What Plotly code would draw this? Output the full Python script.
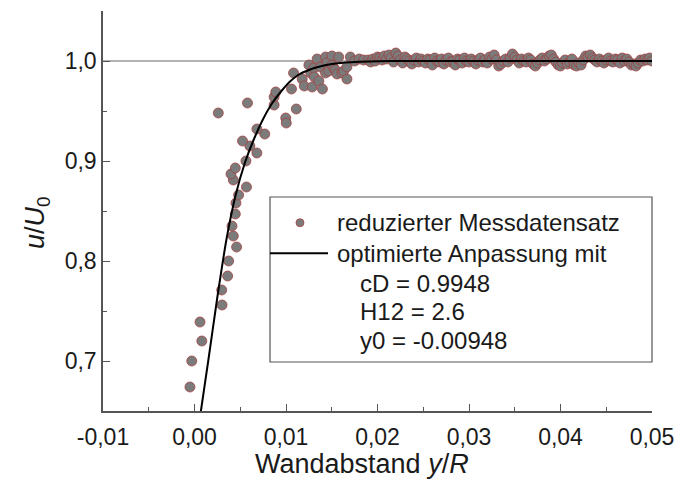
import plotly.graph_objects as go

# ---------------- data ----------------
# measured points (reduced data set)
meas_x = [
    -0.00050, -0.00030, 0.00080, 0.00060, 0.00301, 0.00297, 0.00362, 0.00373, 0.00460, 0.00424,
    0.00410, 0.00446, 0.00453, 0.00482, 0.00568, 0.00424, 0.00399, 0.00446, 0.00562, 0.00682,
    0.00605, 0.00525, 0.00768, 0.00682, 0.00260, 0.00579,
    0.00870, 0.00870, 0.00888, 0.00997, 0.01003, 0.01112, 0.01060, 0.01083, 0.01177, 0.01200,
    0.01250, 0.01270, 0.01286, 0.01304, 0.01310, 0.01340, 0.01359, 0.01377, 0.01398, 0.01432,
    0.01432, 0.01449, 0.01467, 0.01503, 0.01503, 0.01522, 0.01540, 0.01558, 0.01576, 0.01612,
    0.01630, 0.01666, 0.01666, 0.01703, 0.01750, 0.01800, 0.01848,
    0.01900, 0.01925, 0.01950, 0.01975, 0.02000, 0.02025, 0.02050, 0.02075, 0.02100, 0.02125,
    0.02150, 0.02175, 0.02200, 0.02225, 0.02250, 0.02275, 0.02300, 0.02325, 0.02350, 0.02375,
    0.02400, 0.02425, 0.02450, 0.02475, 0.02500, 0.02525, 0.02550, 0.02575, 0.02600, 0.02625,
    0.02650, 0.02675, 0.02700, 0.02725, 0.02750, 0.02775, 0.02800, 0.02825, 0.02850, 0.02875,
    0.02900, 0.02925, 0.02950, 0.02975, 0.03000, 0.03025, 0.03050, 0.03075, 0.03100, 0.03125,
    0.03150, 0.03175, 0.03200, 0.03225, 0.03250, 0.03275, 0.03300, 0.03325, 0.03350, 0.03375,
    0.03400, 0.03425, 0.03450, 0.03475, 0.03500, 0.03525, 0.03550, 0.03575, 0.03600, 0.03625,
    0.03650, 0.03675, 0.03700, 0.03725, 0.03750, 0.03775, 0.03800, 0.03825, 0.03850, 0.03875,
    0.03900, 0.03925, 0.03950, 0.03975, 0.04000, 0.04025, 0.04050, 0.04075, 0.04100, 0.04125,
    0.04150, 0.04175, 0.04200, 0.04225, 0.04250, 0.04275, 0.04300, 0.04325, 0.04350, 0.04375,
    0.04400, 0.04425, 0.04450, 0.04475, 0.04500, 0.04525, 0.04550, 0.04575, 0.04600, 0.04625,
    0.04650, 0.04675, 0.04700, 0.04725, 0.04750, 0.04775, 0.04800, 0.04825, 0.04850, 0.04875,
    0.04900, 0.04925, 0.04950, 0.04975, 0.05000,
]
meas_y = [
    0.674, 0.700, 0.720, 0.739, 0.756, 0.771, 0.785, 0.800, 0.814, 0.825,
    0.835, 0.847, 0.858, 0.866, 0.874, 0.881, 0.887, 0.893, 0.900, 0.908,
    0.915, 0.920, 0.927, 0.932, 0.948, 0.958,
    0.956, 0.964, 0.969, 0.943, 0.938, 0.952, 0.972, 0.988, 0.982, 0.975,
    0.996, 0.988, 0.974, 0.993, 0.984, 1.002, 0.980, 0.994, 0.972, 1.004,
    0.988, 0.998, 0.990, 1.005, 0.996, 0.993, 0.991, 0.987, 1.004, 0.988,
    0.990, 0.994, 0.982, 1.004, 1.000, 1.002, 1.001,
    1.001, 0.999, 1.002, 1.000, 1.004, 1.003, 1.001, 1.005, 1.002, 1.006,
    1.003, 0.999, 1.008, 1.005, 1.001, 0.998, 1.004, 1.002, 1.000, 0.997,
    1.001, 1.003, 0.999, 1.002, 1.000, 0.998, 1.002, 1.001, 0.996, 1.003,
    1.000, 0.999, 1.002, 0.997, 1.001, 1.003, 0.999, 1.000, 0.996, 1.002,
    1.001, 0.998, 1.003, 1.000, 0.999, 1.002, 1.000, 0.997, 1.001, 1.003,
    0.999, 1.001, 0.998, 1.004, 1.002, 1.006, 1.001, 0.995, 0.997, 1.000,
    1.002, 0.999, 1.003, 1.007, 1.004, 1.001, 0.998, 1.002, 1.000, 0.999,
    1.003, 1.001, 0.997, 0.995, 0.998, 1.001, 1.003, 1.000, 1.002, 1.005,
    1.006, 1.002, 0.999, 0.996, 0.995, 0.998, 1.001, 0.997, 0.999, 1.002,
    0.996, 0.995, 0.998, 0.996, 1.001, 1.005, 1.004, 1.006, 1.003, 1.001,
    0.999, 1.002, 1.000, 0.998, 1.001, 1.003, 1.000, 0.999, 1.002, 1.001,
    0.998, 1.003, 1.000, 1.002, 0.999, 0.996, 0.997, 0.995, 0.998, 1.001,
    1.000, 1.002, 1.001, 1.003, 1.000,
]

# optimised fit curve
fit_x = [0.0005, 0.0007, 0.0015, 0.0025, 0.0035, 0.0045, 0.0055, 0.0065, 0.0075, 0.0085,
         0.0095, 0.0105, 0.0115, 0.0125, 0.0135, 0.0150, 0.0165, 0.0180, 0.0200, 0.0230,
         0.0300, 0.0400, 0.0500]
fit_y = [0.637, 0.650, 0.700, 0.764, 0.822, 0.866, 0.898, 0.922, 0.942, 0.958,
         0.970, 0.980, 0.987, 0.991, 0.994, 0.997, 0.9985, 0.9993, 0.9998, 1.0,
         1.0, 1.0, 1.0]

x_tickvals = [-0.01, 0.0, 0.01, 0.02, 0.03, 0.04, 0.05]
x_ticktext = ["-0,01", "0,00", "0,01", "0,02", "0,03", "0,04", "0,05"]
y_tickvals = [0.7, 0.8, 0.9, 1.0]
y_ticktext = ["0,7", "0,8", "0,9", "1,0"]

legend_texts = ["reduzierter Messdatensatz", "optimierte Anpassung mit",
                "cD = 0.9948", "H12 = 2.6", "y0 = -0.00948"]

FONT = "Liberation Sans, Arial, sans-serif"
TXT = "#1a1a1a"
AXC = "#555555"
MFILL = "#7b7b7b"
MLINE = "rgba(165,60,60,0.75)"

fig = go.Figure()
fig.add_trace(go.Scatter(
    x=meas_x, y=meas_y, mode="markers",
    marker=dict(size=10, color=MFILL, line=dict(color=MLINE, width=1)),
    showlegend=False, cliponaxis=True))
fig.add_trace(go.Scatter(
    x=fit_x, y=fit_y, mode="lines",
    line=dict(color="black", width=2, shape="spline", smoothing=0.6),
    showlegend=False))

# reference line at u/U0 = 1
fig.add_shape(type="line", xref="paper", x0=0, x1=1, yref="y", y0=1.0, y1=1.0,
              line=dict(color="#9a9a9a", width=1.5), layer="below")

# ---- hand-built legend (box, symbols, text) ----
fig.add_shape(type="rect", xref="paper", yref="paper", x0=0.3042, x1=1.0, y0=0.1225, y1=0.535,
              line=dict(color=AXC, width=1.2), fillcolor="rgba(0,0,0,0)")
fig.add_shape(type="circle", xref="paper", yref="paper",
              xsizemode="pixel", ysizemode="pixel", xanchor=0.3588, yanchor=0.4708,
              x0=-4, x1=4, y0=-4, y1=4,
              fillcolor=MFILL, line=dict(color=MLINE, width=1))
fig.add_shape(type="line", xref="paper", yref="paper", x0=0.3042, x1=0.4098, y0=0.3943, y1=0.3943,
              line=dict(color="black", width=2))
leg_x = [0.4226, 0.4226, 0.4645, 0.4645, 0.4645]
leg_y = [0.4708, 0.3943, 0.3193, 0.2483, 0.1775]
for t, lx, ly in zip(legend_texts, leg_x, leg_y):
    fig.add_annotation(text=t, xref="paper", yref="paper", x=lx, y=ly,
                       xanchor="left", yanchor="middle", showarrow=False,
                       font=dict(family=FONT, size=24, color=TXT))

# axis titles
fig.add_annotation(text="<i>u</i>/<i>U</i><sub>0</sub>", xref="paper", yref="paper",
                   x=-0.120, y=0.47, textangle=-90, showarrow=False,
                   xanchor="center", yanchor="middle",
                   font=dict(family=FONT, size=27, color=TXT))
fig.add_annotation(text="Wandabstand <i>y</i>/<i>R</i>", xref="paper", yref="paper",
                   x=0.4718, y=-0.132, showarrow=False, xanchor="center", yanchor="middle",
                   font=dict(family=FONT, size=27, color=TXT))

fig.update_xaxes(range=[-0.01, 0.05], showgrid=False, zeroline=False,
                 showline=True, linecolor=AXC, linewidth=1.5,
                 ticks="inside", ticklen=7, tickwidth=1.2, tickcolor=AXC,
                 tickmode="array", tickvals=x_tickvals, ticktext=x_ticktext,
                 ticklabelstandoff=5, ticklabeloverflow="allow",
                 tickfont=dict(family=FONT, size=23, color=TXT),
                 minor=dict(tickmode="linear", tick0=0, dtick=0.005, ticks="inside",
                            ticklen=4, tickwidth=1.2, tickcolor=AXC, showgrid=False))
fig.update_yaxes(range=[0.65, 1.05], showgrid=False, zeroline=False,
                 showline=True, linecolor=AXC, linewidth=1.5,
                 ticks="inside", ticklen=7, tickwidth=1.2, tickcolor=AXC,
                 tickmode="array", tickvals=y_tickvals, ticktext=y_ticktext,
                 tickfont=dict(family=FONT, size=23, color=TXT),
                 minor=dict(tickmode="linear", tick0=0.65, dtick=0.05, ticks="inside",
                            ticklen=4, tickwidth=1.2, tickcolor=AXC, showgrid=False))

# the page body adds an 8 px offset; margins are shifted so the plot area sits where the reference has it
fig.update_layout(width=682, height=492,
                  margin=dict(l=95, r=38, t=3, b=89, autoexpand=False),
                  plot_bgcolor="white", paper_bgcolor="white",
                  font=dict(family=FONT), showlegend=False)

fig.write_html("out.html")
